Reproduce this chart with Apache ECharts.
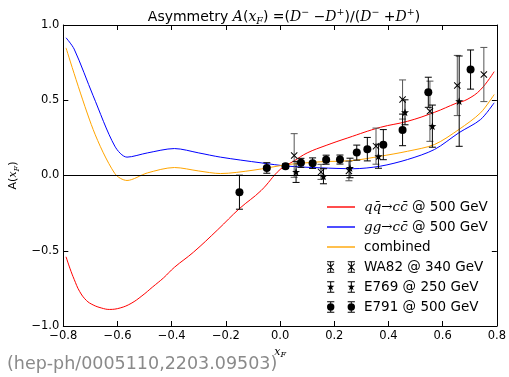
<!DOCTYPE html>
<html>
<head>
<meta charset="utf-8">
<script src="https://cdn.jsdelivr.net/npm/echarts@6/dist/echarts.min.js"></script>
<style>
html,body{margin:0;padding:0;background:#fff;}
#chart{width:509px;height:377px;}
</style>
</head>
<body>
<div id="chart"></div>
<script>
// Model curves at 500 GeV: x_F grid and asymmetry values
const qqX = [-0.79,-0.775,-0.76,-0.74,-0.715,-0.69,-0.66,-0.63,-0.59,-0.55,-0.51,-0.47,-0.43,-0.39,-0.32,-0.23,-0.15,-0.07,0.0,0.05,0.10,0.17,0.25,0.37,0.47,0.57,0.65,0.69,0.74,0.79];
const qqY = [-0.54,-0.62,-0.69,-0.77,-0.83,-0.86,-0.88,-0.89,-0.88,-0.85,-0.80,-0.74,-0.68,-0.61,-0.51,-0.36,-0.22,-0.10,0.04,0.095,0.15,0.20,0.25,0.32,0.36,0.42,0.48,0.505,0.57,0.69];

const ggX = [-0.79,-0.76,-0.69,-0.61,-0.565,-0.49,-0.39,-0.30,-0.22,-0.07,0.03,0.15,0.27,0.37,0.47,0.57,0.66,0.74,0.79];
const ggY = [0.915,0.84,0.53,0.195,0.122,0.15,0.179,0.15,0.122,0.084,0.062,0.051,0.045,0.062,0.106,0.173,0.284,0.372,0.483];

const combX = [-0.79,-0.69,-0.61,-0.565,-0.49,-0.39,-0.30,-0.22,-0.10,0.03,0.15,0.27,0.37,0.47,0.57,0.66,0.74,0.79];
const combY = [0.848,0.306,0.013,-0.033,0.017,0.053,0.03,0.013,0.035,0.073,0.091,0.10,0.128,0.161,0.206,0.306,0.417,0.538];

// Measurements: [x_F, A, error]
const wa82 = [[0.052,0.133,0.145],[0.151,0.024,0.05],[0.254,0.03,0.065],[0.354,0.195,0.12],[0.452,0.505,0.13],[0.553,0.427,0.2],[0.654,0.598,0.2],[0.752,0.671,0.18]];
const e769 = [[0.059,0.024,0.07],[0.16,-0.005,0.05],[0.258,0.05,0.065],[0.363,0.128,0.08],[0.461,0.42,0.083],[0.562,0.328,0.14],[0.661,0.494,0.3]];
const e791 = [[-0.15,-0.111,0.113],[-0.049,0.05,0.035],[0.02,0.062,0.015],[0.077,0.084,0.03],[0.12,0.082,0.035],[0.17,0.105,0.03],[0.221,0.106,0.03],[0.283,0.152,0.05],[0.322,0.175,0.078],[0.381,0.205,0.1],[0.452,0.303,0.105],[0.547,0.553,0.1],[0.703,0.704,0.13]];

const NAME_QQ = 'qq';
const NAME_GG = 'gg';
const NAME_COMB = 'combined';
const NAME_WA82 = 'WA82 @ 340 GeV';
const NAME_E769 = 'E769 @ 250 GeV';
const NAME_E791 = 'E791 @ 500 GeV';

const pairs = (xs, ys) => xs.map((x, i) => [x, ys[i]]);

// marker shapes (path symbols)
const starPath = 'path://M5,0L6.18,3.38L9.76,3.45L6.9,5.62L7.94,9.05L5,7L2.06,9.05L3.1,5.62L0.24,3.45L3.82,3.38Z';
const crossPath = 'path://M0,1L1,0L10,9L9,10Z M9,0L10,1L1,10L0,9Z';

// legend icons: two error-bar markers side by side, or a plain line
function barPart(cx) {
  return `M${cx-0.5},0H${cx+0.5}V11H${cx-0.5}Z M${cx-3.5},0H${cx+3.5}V1H${cx-3.5}Z M${cx-3.5},10H${cx+3.5}V11H${cx-3.5}Z `;
}
function circlePart(cx) {
  const r = 3.6, cy = 5.5;
  return `M${cx-r},${cy}A${r},${r} 0 1 1 ${cx+r},${cy}A${r},${r} 0 1 1 ${cx-r},${cy}Z `;
}
function starPart(cx) {
  const pts = [[5,0],[6.18,3.38],[9.76,3.45],[6.9,5.62],[7.94,9.05],[5,7],[2.06,9.05],[3.1,5.62],[0.24,3.45],[3.82,3.38]];
  const s = 0.75, ox = cx - 5*s, oy = 5.5 - 5*s;
  return 'M' + pts.map(p => `${(ox+p[0]*s).toFixed(2)},${(oy+p[1]*s).toFixed(2)}`).join('L') + 'Z ';
}
function crossPart(cx) {
  const s = 0.7, ox = cx - 5*s, oy = 5.5 - 5*s;
  const a = [[0,1],[1,0],[10,9],[9,10]], b = [[9,0],[10,1],[1,10],[0,9]];
  const f = q => 'M' + q.map(p => `${(ox+p[0]*s).toFixed(2)},${(oy+p[1]*s).toFixed(2)}`).join('L') + 'Z ';
  return f(a) + f(b);
}
const iconFor = part => 'path://' + barPart(4) + part(4) + barPart(24) + part(24);
const lineIcon = 'path://M0,0H24V1.2H0Z';

function errRenderer(color) {
  return function (params, api) {
    const x = api.value(0), y = api.value(1), e = api.value(2);
    const top = api.coord([x, y + e]);
    const bot = api.coord([x, y - e]);
    const h = 3.5;
    const style = { stroke: color, lineWidth: 1, fill: null };
    return {
      type: 'group',
      children: [
        { type: 'line', shape: { x1: top[0], y1: top[1], x2: bot[0], y2: bot[1] }, style },
        { type: 'line', shape: { x1: top[0]-h, y1: top[1], x2: top[0]+h, y2: top[1] }, style },
        { type: 'line', shape: { x1: bot[0]-h, y1: bot[1], x2: bot[0]+h, y2: bot[1] }, style }
      ]
    };
  };
}

const tickFmt = v => {
  if (Math.abs(v) < 1e-9) return '0.0';
  return v.toFixed(1).replace('-', '\u2212');
};

const SANS = 'DejaVu Sans';
const SERIF = 'DejaVu Serif';

const chart = echarts.init(document.getElementById('chart'), null, { renderer: 'canvas' });

const legendLabels = {};
legendLabels[NAME_QQ] = '{p|}{m|qq\u0304\u2192cc\u0304} @ 500 GeV';
legendLabels[NAME_GG] = '{p|}{m|gg\u2192cc\u0304} @ 500 GeV';
legendLabels[NAME_COMB] = '{p|}combined';
legendLabels[NAME_WA82] = '{p|}' + NAME_WA82;
legendLabels[NAME_E769] = '{p|}' + NAME_E769;
legendLabels[NAME_E791] = '{p|}' + NAME_E791;

const axisCommon = {
  type: 'value',
  axisLine: { show: true, onZero: false, lineStyle: { color: '#000', width: 1 } },
  axisTick: { show: true, inside: true, length: 5, lineStyle: { color: '#000', width: 1 } },
  splitLine: { show: false }
};

chart.setOption({
  animation: false,
  backgroundColor: '#fff',
  title: {
    text: 'Asymmetry {i|A}({i|x}{sub|F}) =({i|D}{sup|\u2212} \u2212{i|D}{sup|+})/({i|D}{sup|\u2212} +{i|D}{sup|+})',
    left: 279,
    textAlign: 'center',
    top: 3,
    textStyle: {
      fontFamily: SANS, fontSize: 14, fontWeight: 'normal', color: '#000', lineHeight: 19,
      rich: {
        i: { fontFamily: SERIF, fontStyle: 'italic', fontSize: 14, color: '#000', lineHeight: 19 },
        sub: { fontFamily: SERIF, fontStyle: 'italic', fontSize: 9.5, color: '#000', verticalAlign: 'bottom', lineHeight: 14 },
        sup: { fontFamily: SERIF, fontSize: 9.5, color: '#000', verticalAlign: 'top', lineHeight: 12 }
      }
    }
  },
  grid: { left: 63, right: 12, top: 25, bottom: 51, containLabel: false },
  legend: {
    orient: 'vertical',
    left: 322,
    top: 195,
    itemWidth: 28,
    itemHeight: 14,
    itemGap: 6,
    selectedMode: false,
    textStyle: {
      fontFamily: SANS, fontSize: 13.5, color: '#000',
      rich: {
        p: { width: 4 },
        m: { fontFamily: SERIF, fontStyle: 'italic', fontSize: 13.5, color: '#000' }
      }
    },
    formatter: n => legendLabels[n],
    data: [
      { name: NAME_QQ, icon: lineIcon, itemStyle: { color: '#ff0000' } },
      { name: NAME_GG, icon: lineIcon, itemStyle: { color: '#0000ff' } },
      { name: NAME_COMB, icon: lineIcon, itemStyle: { color: '#ffa500' } },
      { name: NAME_WA82, icon: iconFor(crossPart), itemStyle: { color: '#000' } },
      { name: NAME_E769, icon: iconFor(starPart), itemStyle: { color: '#000' } },
      { name: NAME_E791, icon: iconFor(circlePart), itemStyle: { color: '#000' } }
    ]
  },
  xAxis: [
    Object.assign({}, axisCommon, {
      position: 'bottom', min: -0.8, max: 0.8, interval: 0.2,
      axisLabel: { formatter: tickFmt, fontFamily: SANS, fontSize: 11.5, color: '#000', margin: 4, showMinLabel: true, showMaxLabel: true },
      name: '{i|x}{s|F}',
      nameLocation: 'middle',
      nameGap: 19,
      nameTextStyle: {
        fontFamily: SERIF, fontStyle: 'italic', fontSize: 11, color: '#000',
        rich: {
          i: { fontFamily: SERIF, fontStyle: 'italic', fontSize: 11, color: '#000', lineHeight: 14 },
          s: { fontFamily: SERIF, fontStyle: 'italic', fontSize: 8, color: '#000', verticalAlign: 'bottom', lineHeight: 10 }
        }
      }
    }),
    Object.assign({}, axisCommon, {
      position: 'top', min: -0.8, max: 0.8, interval: 0.2,
      axisLabel: { show: false }
    })
  ],
  yAxis: [
    Object.assign({}, axisCommon, {
      position: 'left', min: -1, max: 1, interval: 0.5,
      axisLabel: { formatter: tickFmt, fontFamily: SANS, fontSize: 11.5, color: '#000', margin: 4, showMinLabel: true, showMaxLabel: true },
      name: 'A({i|x}{s|F})',
      nameLocation: 'middle',
      nameRotate: 90,
      nameGap: 37,
      nameTextStyle: {
        fontFamily: SANS, fontSize: 11, color: '#000',
        rich: {
          i: { fontFamily: SERIF, fontStyle: 'italic', fontSize: 11, color: '#000', lineHeight: 14 },
          s: { fontFamily: SERIF, fontStyle: 'italic', fontSize: 8, color: '#000', verticalAlign: 'bottom', lineHeight: 10 }
        }
      }
    }),
    Object.assign({}, axisCommon, {
      position: 'right', min: -1, max: 1, interval: 0.5,
      axisLabel: { show: false }
    })
  ],
  graphic: [
    {
      type: 'text',
      left: 7,
      top: 355,
      style: {
        text: '(hep-ph/0005110,2203.09503)',
        fontFamily: SANS,
        fontSize: 17.5,
        fill: '#8a8a8a'
      }
    }
  ],
  series: [
    {
      name: NAME_QQ, type: 'line', data: pairs(qqX, qqY), smooth: 0.4,
      symbol: 'none', lineStyle: { color: '#ff0000', width: 1 }, itemStyle: { color: '#ff0000' },
      markLine: {
        silent: true, symbol: 'none', label: { show: false },
        lineStyle: { color: '#000', type: 'solid', width: 1 },
        data: [{ yAxis: 0 }]
      },
      z: 2
    },
    {
      name: NAME_GG, type: 'line', data: pairs(ggX, ggY), smooth: 0.3,
      symbol: 'none', lineStyle: { color: '#0000ff', width: 1 }, itemStyle: { color: '#0000ff' }, z: 2
    },
    {
      name: NAME_COMB, type: 'line', data: pairs(combX, combY), smooth: 0.3,
      symbol: 'none', lineStyle: { color: '#ffa500', width: 1 }, itemStyle: { color: '#ffa500' }, z: 2
    },
    {
      name: NAME_WA82, type: 'custom', renderItem: errRenderer('#555'), data: wa82,
      encode: { x: 0, y: 1 }, itemStyle: { color: '#000' }, z: 3
    },
    {
      name: NAME_WA82, type: 'scatter', data: wa82.map(d => [d[0], d[1]]),
      symbol: crossPath, symbolSize: 7, itemStyle: { color: '#000', opacity: 1 }, z: 4
    },
    {
      name: NAME_E769, type: 'custom', renderItem: errRenderer('#000'), data: e769,
      encode: { x: 0, y: 1 }, itemStyle: { color: '#000' }, z: 3
    },
    {
      name: NAME_E769, type: 'scatter', data: e769.map(d => [d[0], d[1]]),
      symbol: starPath, symbolSize: 8, itemStyle: { color: '#000', opacity: 1 }, z: 4
    },
    {
      name: NAME_E791, type: 'custom', renderItem: errRenderer('#000'), data: e791,
      encode: { x: 0, y: 1 }, itemStyle: { color: '#000' }, z: 3
    },
    {
      name: NAME_E791, type: 'scatter', data: e791.map(d => [d[0], d[1]]),
      symbol: 'circle', symbolSize: 8, itemStyle: { color: '#000', opacity: 1 }, z: 4
    }
  ]
});
</script>
</body>
</html>
